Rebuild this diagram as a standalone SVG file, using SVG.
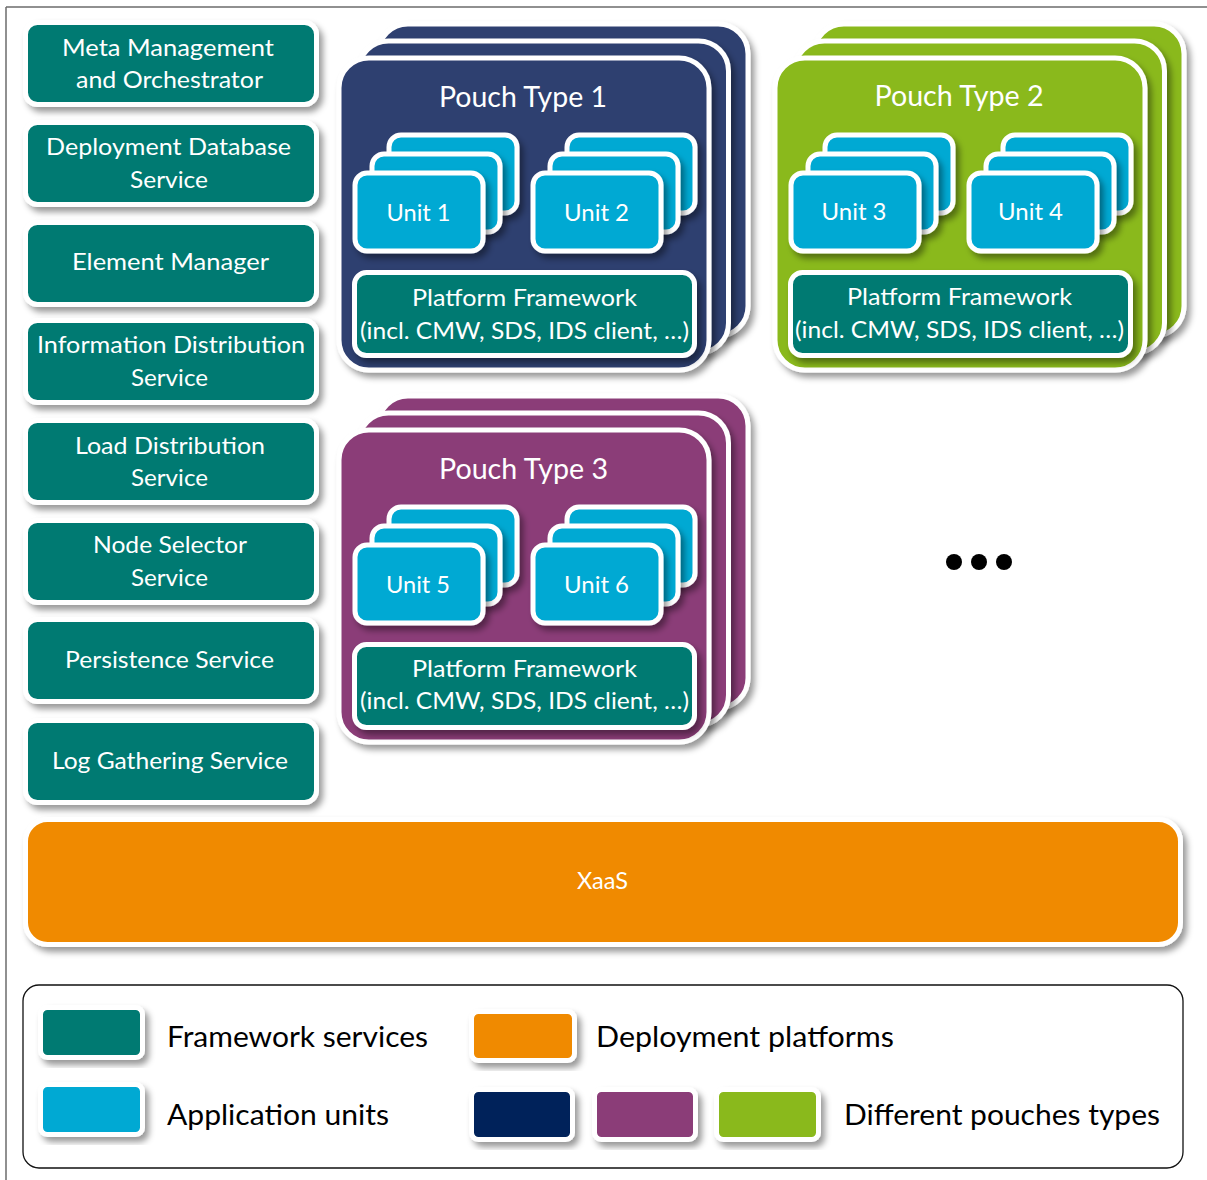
<svg xmlns="http://www.w3.org/2000/svg" width="1207" height="1180" viewBox="0 0 1207 1180">
  <defs>
    <filter id="shadow" x="-10%" y="-10%" width="125%" height="130%">
      <feDropShadow dx="4" dy="5" stdDeviation="3" flood-color="#000" flood-opacity="0.4"/>
    </filter>
    <style>
      .card { stroke: #fff; stroke-width: 5; filter: url(#shadow); }
      .teal { fill: #017A72; }
      .cyan { fill: #03A9D3; }
      .navy { fill: #2F3F70; }
      .green { fill: #8AB91B; }
      .purple { fill: #8B3E78; }
      .orange { fill: #F08A00; }
      .dnavy { fill: #00245A; }
      text { font-family: Lato, "Open Sans", "Liberation Sans", sans-serif; }
      .w { fill: #fff; text-anchor: middle; }
      .svc { font-size: 23.5px; }
      .title { font-size: 28px; }
      .unit { font-size: 23.5px; }
      .pf { font-size: 24px; }
      .leg { font-size: 29px; fill: #000; }
    </style>
  </defs>

  <rect width="1207" height="1180" fill="#fff"/>
  <!-- outer frame lines -->
  <g id="frame" stroke="#6b6b6b" stroke-width="1.5" fill="none">
    <line x1="6" y1="7" x2="1207" y2="7"/>
    <line x1="6" y1="7" x2="6" y2="1180"/>
  </g>

  <!-- framework services column -->
  <g id="svc-meta">
    <rect class="card teal" x="25.5" y="22.5" width="291" height="82" rx="12"/>
    <text class="w svc" x="168" y="56" textLength="212" lengthAdjust="spacingAndGlyphs">Meta Management</text>
    <text class="w svc" x="169.5" y="88" textLength="187" lengthAdjust="spacingAndGlyphs">and Orchestrator</text>
  </g>
  <g id="svc-deploydb">
    <rect class="card teal" x="25.5" y="122.5" width="291" height="82" rx="12"/>
    <text class="w svc" x="168.5" y="155" textLength="245" lengthAdjust="spacingAndGlyphs">Deployment Database</text>
    <text class="w svc" x="169" y="188" textLength="78" lengthAdjust="spacingAndGlyphs">Service</text>
  </g>
  <g id="svc-element">
    <rect class="card teal" x="25.5" y="222.5" width="291" height="82" rx="12"/>
    <text class="w svc" x="170.5" y="270" textLength="197" lengthAdjust="spacingAndGlyphs">Element Manager</text>
  </g>
  <g id="svc-ids">
    <rect class="card teal" x="25.5" y="320.5" width="291" height="82" rx="12"/>
    <text class="w svc" x="171" y="353" textLength="268" lengthAdjust="spacingAndGlyphs">Information Distribution</text>
    <text class="w svc" x="169.5" y="386" textLength="77" lengthAdjust="spacingAndGlyphs">Service</text>
  </g>
  <g id="svc-lds">
    <rect class="card teal" x="25.5" y="420.5" width="291" height="82" rx="12"/>
    <text class="w svc" x="170" y="454" textLength="190" lengthAdjust="spacingAndGlyphs">Load Distribution</text>
    <text class="w svc" x="169.5" y="486" textLength="77" lengthAdjust="spacingAndGlyphs">Service</text>
  </g>
  <g id="svc-nss">
    <rect class="card teal" x="25.5" y="520.5" width="291" height="82" rx="12"/>
    <text class="w svc" x="170" y="553" textLength="154" lengthAdjust="spacingAndGlyphs">Node Selector</text>
    <text class="w svc" x="169.5" y="586" textLength="77" lengthAdjust="spacingAndGlyphs">Service</text>
  </g>
  <g id="svc-persist">
    <rect class="card teal" x="25.5" y="619.5" width="291" height="82" rx="12"/>
    <text class="w svc" x="169.5" y="668" textLength="209" lengthAdjust="spacingAndGlyphs">Persistence Service</text>
  </g>
  <g id="svc-log">
    <rect class="card teal" x="25.5" y="720.5" width="291" height="82" rx="12"/>
    <text class="w svc" x="170" y="769" textLength="236" lengthAdjust="spacingAndGlyphs">Log Gathering Service</text>
  </g>

  <!-- pouch type 1 -->
  <g id="pouch1">
    <rect class="card navy" x="378" y="24" width="370" height="312" rx="30"/>
    <rect class="card navy" x="358.5" y="41" width="370" height="312" rx="30"/>
    <rect class="card navy" x="339" y="58" width="370" height="312" rx="30"/>
    <text class="w title" x="523" y="107" textLength="168" lengthAdjust="spacingAndGlyphs">Pouch Type 1</text>
    <g id="unit1">
      <rect class="card cyan" x="389" y="135" width="128" height="78" rx="12"/>
      <rect class="card cyan" x="372" y="154" width="128" height="78" rx="12"/>
      <rect class="card cyan" x="355" y="173" width="128" height="78" rx="12"/>
      <text class="w unit" x="418.5" y="221" textLength="64" lengthAdjust="spacingAndGlyphs">Unit 1</text>
    </g>
    <g id="unit2">
      <rect class="card cyan" x="567" y="135" width="128" height="78" rx="12"/>
      <rect class="card cyan" x="550" y="154" width="128" height="78" rx="12"/>
      <rect class="card cyan" x="533" y="173" width="128" height="78" rx="12"/>
      <text class="w unit" x="596.5" y="221" textLength="65" lengthAdjust="spacingAndGlyphs">Unit 2</text>
    </g>
    <g id="pf1">
      <rect class="card teal" x="354.5" y="272.5" width="340" height="83" rx="12"/>
      <text class="w pf" x="524.5" y="306" textLength="225" lengthAdjust="spacingAndGlyphs">Platform Framework</text>
      <text class="w pf" x="524.5" y="339" textLength="329" lengthAdjust="spacingAndGlyphs">(incl. CMW, SDS, IDS client, …)</text>
    </g>
  </g>

  <!-- pouch type 2 -->
  <g id="pouch2" transform="translate(436,0)">
    <rect class="card green" x="378" y="24" width="370" height="312" rx="30"/>
    <rect class="card green" x="358.5" y="41" width="370" height="312" rx="30"/>
    <rect class="card green" x="339" y="58" width="370" height="312" rx="30"/>
    <text class="w title" x="523" y="106" textLength="169" lengthAdjust="spacingAndGlyphs">Pouch Type 2</text>
    <g id="unit3">
      <rect class="card cyan" x="389" y="135" width="128" height="78" rx="12"/>
      <rect class="card cyan" x="372" y="154" width="128" height="78" rx="12"/>
      <rect class="card cyan" x="355" y="173" width="128" height="78" rx="12"/>
      <text class="w unit" x="418" y="220" textLength="65" lengthAdjust="spacingAndGlyphs">Unit 3</text>
    </g>
    <g id="unit4">
      <rect class="card cyan" x="567" y="135" width="128" height="78" rx="12"/>
      <rect class="card cyan" x="550" y="154" width="128" height="78" rx="12"/>
      <rect class="card cyan" x="533" y="173" width="128" height="78" rx="12"/>
      <text class="w unit" x="594.5" y="220" textLength="65" lengthAdjust="spacingAndGlyphs">Unit 4</text>
    </g>
    <g id="pf2">
      <rect class="card teal" x="354.5" y="272.5" width="340" height="83" rx="12"/>
      <text class="w pf" x="523.5" y="305" textLength="225" lengthAdjust="spacingAndGlyphs">Platform Framework</text>
      <text class="w pf" x="523.5" y="338" textLength="329" lengthAdjust="spacingAndGlyphs">(incl. CMW, SDS, IDS client, …)</text>
    </g>
  </g>

  <!-- pouch type 3 -->
  <g id="pouch3" transform="translate(0,372)">
    <rect class="card purple" x="378" y="24" width="370" height="312" rx="30"/>
    <rect class="card purple" x="358.5" y="41" width="370" height="312" rx="30"/>
    <rect class="card purple" x="339" y="58" width="370" height="312" rx="30"/>
    <text class="w title" x="523.5" y="107" textLength="169" lengthAdjust="spacingAndGlyphs">Pouch Type 3</text>
    <g id="unit5">
      <rect class="card cyan" x="389" y="135" width="128" height="78" rx="12"/>
      <rect class="card cyan" x="372" y="154" width="128" height="78" rx="12"/>
      <rect class="card cyan" x="355" y="173" width="128" height="78" rx="12"/>
      <text class="w unit" x="418" y="221" textLength="64" lengthAdjust="spacingAndGlyphs">Unit 5</text>
    </g>
    <g id="unit6">
      <rect class="card cyan" x="567" y="135" width="128" height="78" rx="12"/>
      <rect class="card cyan" x="550" y="154" width="128" height="78" rx="12"/>
      <rect class="card cyan" x="533" y="173" width="128" height="78" rx="12"/>
      <text class="w unit" x="596.5" y="221" textLength="65" lengthAdjust="spacingAndGlyphs">Unit 6</text>
    </g>
    <g id="pf3">
      <rect class="card teal" x="354.5" y="272.5" width="340" height="83" rx="12"/>
      <text class="w pf" x="524.5" y="305" textLength="225" lengthAdjust="spacingAndGlyphs">Platform Framework</text>
      <text class="w pf" x="524.5" y="337" textLength="329" lengthAdjust="spacingAndGlyphs">(incl. CMW, SDS, IDS client, …)</text>
    </g>
  </g>

  <!-- more pouch types -->
  <g id="more" fill="#000">
    <circle cx="954" cy="562" r="8"/>
    <circle cx="979" cy="562" r="8"/>
    <circle cx="1004" cy="562" r="8"/>
  </g>

  <!-- deployment platform -->
  <g id="xaas">
    <rect class="card orange" x="25.5" y="819.5" width="1155" height="125" rx="22"/>
    <text class="w svc" x="602.5" y="889" textLength="51" lengthAdjust="spacingAndGlyphs">XaaS</text>
  </g>

  <!-- connectors: none in this layout -->
  <g id="connectors"/>

  <!-- legend -->
  <g id="legend">
    <rect x="23" y="985" width="1160" height="183" rx="16" fill="#fff" stroke="#111" stroke-width="1.3"/>
    <rect class="card teal" x="40.5" y="1007.5" width="102" height="50" rx="7"/>
    <text class="leg" x="167" y="1047" textLength="261" lengthAdjust="spacingAndGlyphs">Framework services</text>
    <rect class="card cyan" x="40.5" y="1084.5" width="102" height="50" rx="7"/>
    <text class="leg" x="167" y="1125" textLength="222" lengthAdjust="spacingAndGlyphs">Application units</text>
    <rect class="card orange" x="471.5" y="1011.5" width="103" height="49" rx="7"/>
    <text class="leg" x="596" y="1047" textLength="298" lengthAdjust="spacingAndGlyphs">Deployment platforms</text>
    <rect class="card dnavy" x="471.5" y="1089.5" width="101" height="50" rx="7"/>
    <rect class="card purple" x="594.5" y="1089.5" width="101" height="50" rx="7"/>
    <rect class="card green" x="716.5" y="1089.5" width="102" height="50" rx="7"/>
    <text class="leg" x="844" y="1125" textLength="316" lengthAdjust="spacingAndGlyphs">Different pouches types</text>
  </g>
</svg>
